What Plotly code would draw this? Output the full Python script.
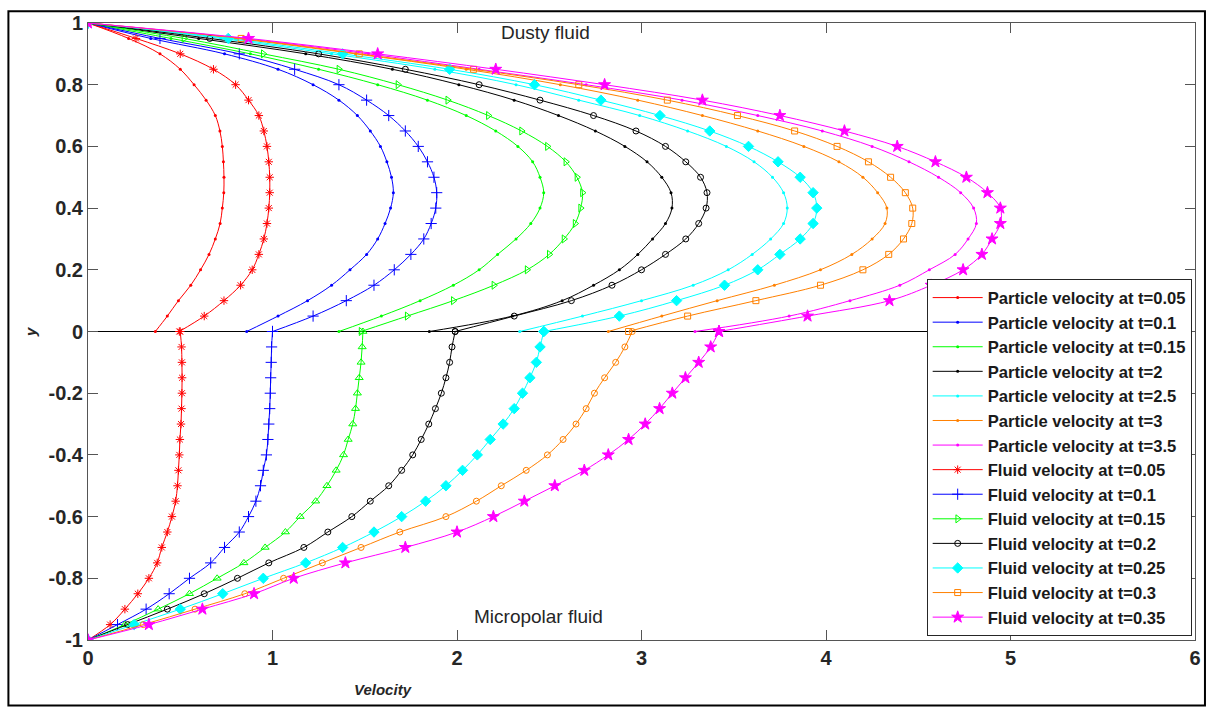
import plotly.graph_objects as go

# Wall-normal coordinate grids
y_upper = [1.0, 0.95, 0.9, 0.85, 0.8, 0.75, 0.7, 0.65, 0.6, 0.55, 0.5,
           0.45, 0.4, 0.35, 0.3, 0.25, 0.2, 0.15, 0.1, 0.05, 0.0]
y_lower = [0.0, -0.05, -0.1, -0.15, -0.2, -0.25, -0.3, -0.35, -0.4, -0.45, -0.5,
           -0.55, -0.6, -0.65, -0.7, -0.75, -0.8, -0.85, -0.9, -0.95, -1.0]

# Dusty fluid region: particle velocity profiles
particle_t005 = [0, 0.22, 0.39, 0.50, 0.575, 0.64, 0.69, 0.715, 0.728, 0.734, 0.737,
                 0.736, 0.728, 0.716, 0.69, 0.656, 0.61, 0.557, 0.49, 0.43, 0.365]
particle_t01 = [0, 0.34, 0.74, 1.03, 1.22, 1.36, 1.46, 1.53, 1.585, 1.62, 1.645,
                1.655, 1.64, 1.61, 1.57, 1.51, 1.42, 1.32, 1.19, 1.03, 0.86]
particle_t015 = [0, 0.45, 0.88, 1.25, 1.57, 1.84, 2.05, 2.21, 2.33, 2.41, 2.45,
                 2.47, 2.45, 2.40, 2.32, 2.22, 2.12, 1.98, 1.80, 1.59, 1.36]
particle_t2 = [0, 0.60, 1.18, 1.65, 2.01, 2.31, 2.55, 2.75, 2.91, 3.03, 3.11,
               3.16, 3.165, 3.13, 3.06, 2.98, 2.88, 2.74, 2.57, 2.30, 1.85]
particle_t25 = [0, 0.72, 1.32, 1.88, 2.32, 2.66, 2.99, 3.25, 3.46, 3.61, 3.71,
                3.77, 3.79, 3.77, 3.70, 3.60, 3.47, 3.28, 3.00, 2.68, 2.34]
particle_t3 = [0, 0.80, 1.45, 2.05, 2.56, 2.98, 3.33, 3.63, 3.88, 4.07, 4.20,
               4.28, 4.33, 4.32, 4.25, 4.14, 3.97, 3.72, 3.41, 3.11, 2.82]
particle_t35 = [0, 0.84, 1.52, 2.12, 2.70, 3.22, 3.63, 3.98, 4.25, 4.45, 4.61,
                4.73, 4.80, 4.815, 4.77, 4.70, 4.56, 4.40, 4.13, 3.80, 3.29]

# Dusty fluid region: fluid velocity profiles
fluid_t005 = [0, 0.26, 0.50, 0.68, 0.80, 0.87, 0.926, 0.953, 0.97, 0.98, 0.985,
              0.985, 0.98, 0.97, 0.953, 0.926, 0.89, 0.827, 0.737, 0.63, 0.495]
fluid_t01 = [0, 0.39, 0.82, 1.12, 1.36, 1.51, 1.63, 1.72, 1.79, 1.84, 1.875,
             1.89, 1.885, 1.86, 1.82, 1.75, 1.66, 1.55, 1.40, 1.22, 1.0]
fluid_t015 = [0, 0.52, 0.95, 1.36, 1.68, 1.95, 2.17, 2.35, 2.49, 2.59, 2.65,
              2.68, 2.67, 2.64, 2.58, 2.50, 2.38, 2.20, 1.98, 1.73, 1.48]
fluid_t02 = [0, 0.66, 1.25, 1.72, 2.12, 2.45, 2.74, 2.97, 3.13, 3.24, 3.32,
             3.355, 3.35, 3.31, 3.24, 3.13, 3.00, 2.84, 2.62, 2.31, 1.99]
fluid_t025 = [0, 0.76, 1.38, 1.96, 2.42, 2.78, 3.10, 3.37, 3.58, 3.74, 3.86,
              3.93, 3.95, 3.93, 3.86, 3.75, 3.63, 3.45, 3.19, 2.88, 2.47]
fluid_t03 = [0, 0.83, 1.47, 2.09, 2.66, 3.14, 3.52, 3.83, 4.06, 4.23, 4.35,
             4.43, 4.47, 4.465, 4.42, 4.34, 4.20, 3.97, 3.62, 3.25, 2.93]
fluid_t035 = [0, 0.87, 1.57, 2.21, 2.80, 3.33, 3.75, 4.10, 4.386, 4.593, 4.761,
              4.875, 4.945, 4.945, 4.90, 4.845, 4.743, 4.57, 4.344, 3.90, 3.42]

# Micropolar fluid region: fluid velocity profiles
micro_t005 = [0.50, 0.507, 0.509, 0.51, 0.509, 0.507, 0.504, 0.498, 0.495, 0.49, 0.485,
              0.475, 0.455, 0.43, 0.40, 0.375, 0.33, 0.27, 0.20, 0.12, 0]
micro_t01 = [1.0, 0.995, 0.993, 0.99, 0.988, 0.985, 0.98, 0.975, 0.967, 0.95, 0.935,
             0.91, 0.87, 0.82, 0.74, 0.665, 0.55, 0.44, 0.315, 0.16, 0]
micro_t015 = [1.49, 1.486, 1.48, 1.47, 1.46, 1.45, 1.435, 1.41, 1.385, 1.345, 1.295,
              1.234, 1.15, 1.07, 0.96, 0.845, 0.70, 0.55, 0.38, 0.20, 0]
micro_t02 = [1.99, 1.973, 1.96, 1.94, 1.915, 1.883, 1.847, 1.806, 1.76, 1.70, 1.63,
             1.53, 1.43, 1.30, 1.17, 0.98, 0.81, 0.63, 0.43, 0.215, 0]
micro_t025 = [2.47, 2.45, 2.43, 2.395, 2.355, 2.31, 2.25, 2.18, 2.11, 2.03, 1.94,
              1.83, 1.70, 1.55, 1.38, 1.18, 0.95, 0.73, 0.50, 0.25, 0]
micro_t03 = [2.95, 2.91, 2.86, 2.80, 2.745, 2.70, 2.645, 2.575, 2.49, 2.375, 2.24,
             2.105, 1.94, 1.69, 1.48, 1.27, 1.06, 0.85, 0.58, 0.30, 0]
micro_t035 = [3.42, 3.375, 3.31, 3.238, 3.167, 3.098, 3.02, 2.93, 2.82, 2.69, 2.53,
              2.365, 2.197, 2.0, 1.72, 1.395, 1.115, 0.90, 0.62, 0.33, 0]

particle_labels = ["Particle velocity at t=0.05", "Particle velocity at t=0.1",
                   "Particle velocity at t=0.15", "Particle velocity at t=2",
                   "Particle velocity at t=2.5", "Particle velocity at t=3",
                   "Particle velocity at t=3.5"]
fluid_labels = ["Fluid velocity at t=0.05", "Fluid velocity at t=0.1",
                "Fluid velocity at t=0.15", "Fluid velocity at t=0.2",
                "Fluid velocity at t=0.25", "Fluid velocity at t=0.3",
                "Fluid velocity at t=0.35"]

x_ticks = [0, 1, 2, 3, 4, 5, 6]
y_ticks = [1, 0.8, 0.6, 0.4, 0.2, 0, -0.2, -0.4, -0.6, -0.8, -1]
y_tick_text = ["1", "0.8", "0.6", "0.4", "0.2", "0", "-0.2", "-0.4", "-0.6", "-0.8", "-1"]

colors = ["#FF0000", "#0000FF", "#00FF00", "#000000", "#00FFFF", "#FF8000", "#FF00FF"]
upper_symbols = ["asterisk-open", "cross-thin-open", "triangle-right-open", "circle-open",
                 "diamond", "square-open", "star"]
lower_symbols = ["asterisk-open", "cross-thin-open", "triangle-up-open", "circle-open",
                 "diamond", "circle-open", "star"]
marker_sizes = [7, 8, 7, 6, 8, 6, 9]

particles = [particle_t005, particle_t01, particle_t015, particle_t2,
             particle_t25, particle_t3, particle_t35]
fluids = [fluid_t005, fluid_t01, fluid_t015, fluid_t02, fluid_t025, fluid_t03, fluid_t035]
micros = [micro_t005, micro_t01, micro_t015, micro_t02, micro_t025, micro_t03, micro_t035]

FONT = "Liberation Sans, Arial, sans-serif"

fig = go.Figure()

# interface between the two fluid layers
fig.add_trace(go.Scatter(x=[0, 6], y=[0, 0], mode="lines",
                         line=dict(color="black", width=1.2),
                         showlegend=False, hoverinfo="skip"))

for i in range(7):
    fig.add_trace(go.Scatter(
        x=particles[i], y=y_upper, mode="lines+markers", name=particle_labels[i],
        legendgroup="p%d" % i, line=dict(color=colors[i], width=1, shape="spline"),
        marker=dict(symbol="circle", size=3, color=colors[i])))

for i in range(7):
    mk = dict(symbol=upper_symbols[i], size=marker_sizes[i], color=colors[i],
              line=dict(color=colors[i], width=1))
    fig.add_trace(go.Scatter(
        x=fluids[i], y=y_upper, mode="lines+markers", name=fluid_labels[i],
        legendgroup="f%d" % i, line=dict(color=colors[i], width=1, shape="spline"),
        marker=mk))
    fig.add_trace(go.Scatter(
        x=micros[i], y=y_lower, mode="lines+markers", name=fluid_labels[i],
        legendgroup="f%d" % i, showlegend=False,
        line=dict(color=colors[i], width=1, shape="spline"),
        marker=dict(symbol=lower_symbols[i], size=marker_sizes[i], color=colors[i],
                    line=dict(color=colors[i], width=1))))

tick_font = dict(family=FONT, size=20, color="#262626", weight="bold")

fig.update_xaxes(range=[0, 6], tickvals=x_ticks, ticks="inside", ticklen=10,
                 tickcolor="#555555", showline=True, linecolor="#555555", linewidth=1,
                 mirror="ticks", showgrid=False, zeroline=False, tickfont=tick_font)
fig.update_yaxes(range=[-1, 1], tickvals=y_ticks, ticktext=y_tick_text, ticks="inside",
                 ticklen=10, tickcolor="#555555", showline=True, linecolor="#555555",
                 linewidth=1, mirror="ticks", showgrid=False, zeroline=False,
                 tickfont=tick_font)

fig.update_layout(
    width=1213, height=709,
    margin=dict(l=88, r=13, t=17, b=69),
    paper_bgcolor="white", plot_bgcolor="white",
    legend=dict(x=0.997, y=0.006, xanchor="right", yanchor="bottom",
                bgcolor="white", bordercolor="#262626", borderwidth=1,
                font=dict(family=FONT, size=16.6, color="#1a1a1a", weight="bold"),
                traceorder="grouped", tracegroupgap=0, itemwidth=50),
    annotations=[
        dict(x=2.477, y=0.97, xref="x", yref="y", text="Dusty fluid", showarrow=False,
             font=dict(family=FONT, size=19, color="#262626")),
        dict(x=2.444, y=-0.925, xref="x", yref="y", text="Micropolar fluid", showarrow=False,
             font=dict(family=FONT, size=19, color="#262626")),
        dict(x=1.60, y=-0.08, xref="x", yref="paper", text="<b><i>Velocity</i></b>",
             showarrow=False, xanchor="center", yanchor="middle",
             font=dict(family=FONT, size=15, color="#262626")),
        dict(x=-0.052, y=0.5, xref="paper", yref="paper", text="<b><i>y</i></b>",
             showarrow=False, textangle=-90, xanchor="center", yanchor="middle",
             font=dict(family=FONT, size=15, color="#262626")),
    ],
    shapes=[dict(type="rect", xref="paper", yref="paper",
                 x0=-0.0719, x1=1.009, y0=-0.106, y1=1.019,
                 line=dict(color="black", width=2))],
)

fig.write_html("out.html")
